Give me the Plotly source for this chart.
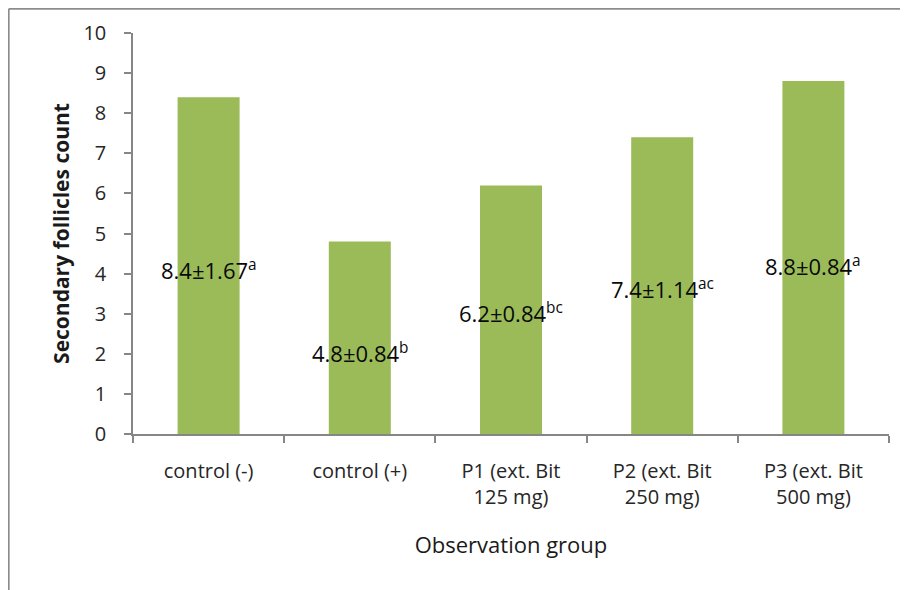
import plotly.graph_objects as go

categories = ["control (-)", "control (+)", "P1 (ext. Bit<br>125 mg)",
              "P2 (ext. Bit<br>250 mg)", "P3 (ext. Bit<br>500 mg)"]
means = [8.4, 4.8, 6.2, 7.4, 8.8]
sds = ["1.67", "0.84", "0.84", "1.14", "0.84"]
letters = ["a", "b", "bc", "ac", "a"]
y_ticks = list(range(0, 11))

BAR = "#9BBB59"
AXIS = "#868686"
FONT = "Open Sans, Noto Sans, sans-serif"

fig = go.Figure()
fig.add_trace(go.Bar(x=categories, y=means, marker=dict(color=BAR, line=dict(width=0)),
                     width=0.41, showlegend=False, hoverinfo="skip"))

# label placement (data units)
label_y = [4.09, 2.04, 3.04, 3.62, 4.21]
for c, m, s, l, ly in zip(categories, means, sds, letters, label_y):
    fig.add_annotation(x=c, y=ly, xref="x", yref="y", showarrow=False,
                       text=f"{m:.1f}±{s}<sup>{l}</sup>",
                       font=dict(size=22, color="#0a0a0a", family=FONT))

# the page body adds an 8px offset, margins are set in figure pixels
W, H = 908, 590
L, R, T, B = 125, 27, 25, 164
pw, ph = W - L - R, H - T - B

def px2paper(px, py):
    return (px - L) / pw, (H - B - py) / ph

x0, y0 = px2paper(0.75, 0.75)
x1, y1 = px2paper(920, 600)
fig.add_shape(type="line", xref="paper", yref="paper", x0=x0, y0=y1, x1=x0, y1=y0,
              line=dict(color="#8c8c8c", width=1.8))
fig.add_shape(type="line", xref="paper", yref="paper", x0=x0, y0=y0, x1=x1, y1=y0,
              line=dict(color="#8c8c8c", width=1.8))

fig.update_layout(
    width=W, height=H, margin=dict(l=L, r=R, t=T, b=B),
    paper_bgcolor="white", plot_bgcolor="white",
    font=dict(family=FONT, color="#262626", size=20),
    xaxis=dict(showline=True, linecolor=AXIS, linewidth=1.5, ticks="outside",
               tickson="boundaries", ticklen=7, tickcolor=AXIS, tickwidth=1.5,
               tickfont=dict(size=20, color="#262626"), range=[-0.5, 4.5],
               ticklabelstandoff=18,
               title=dict(text="Observation group", font=dict(size=22, color="#1a1a1a"),
                          standoff=29), automargin=False),
    yaxis=dict(range=[0, 10], tickvals=y_ticks, showline=True, linecolor=AXIS, linewidth=1.5,
               ticks="outside", ticklen=7, tickcolor=AXIS, tickwidth=1.5, showgrid=False,
               zeroline=False, tickfont=dict(size=20, color="#262626"), ticklabelstandoff=14,
               title=dict(text="<b>Secondary follicles count</b>",
                          font=dict(size=21, color="#1a1a1a"), standoff=8),
               automargin=False),
)

fig.write_html("out.html")
